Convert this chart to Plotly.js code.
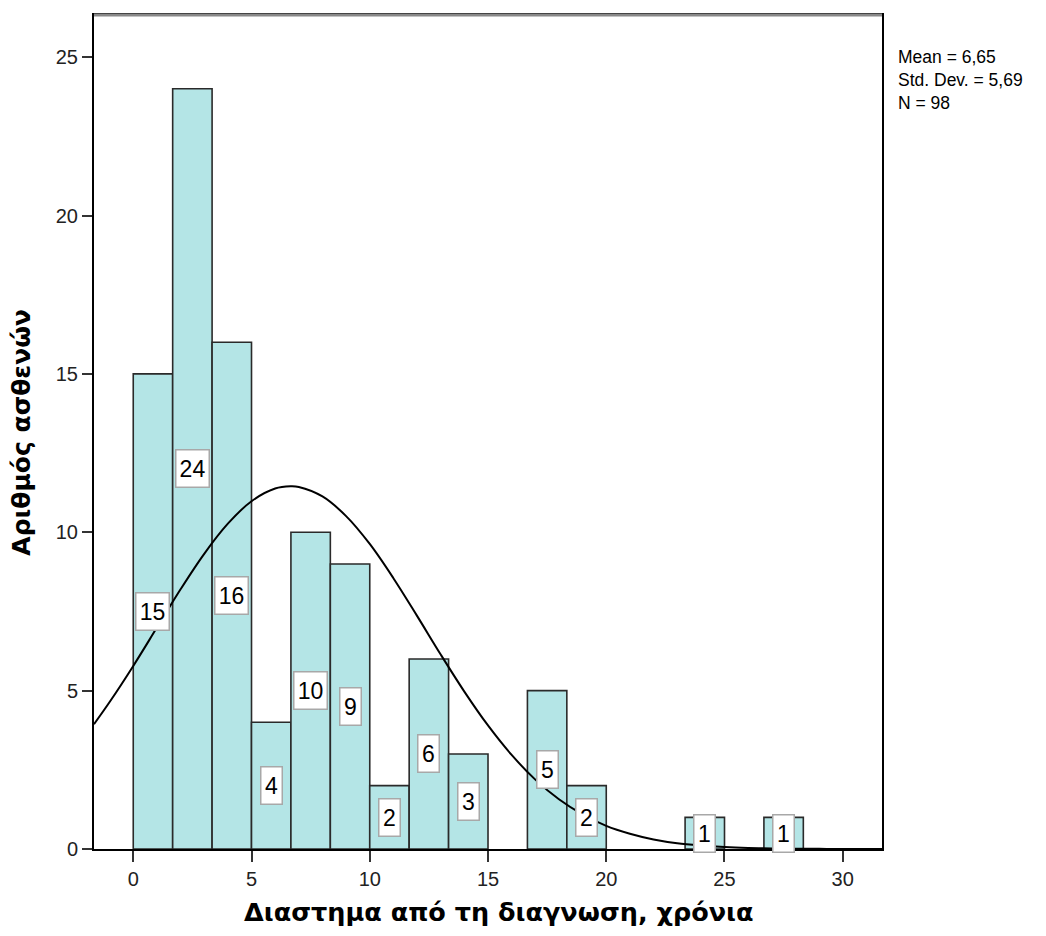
<!DOCTYPE html>
<html>
<head>
<meta charset="utf-8">
<script src="https://cdn.plot.ly/plotly-3.0.1.min.js"></script>
<style>html,body{margin:0;padding:0;background:#fff;}</style>
</head>
<body>
<div id="chart" style="width:1046px;height:936px;"></div>
<script>
// Histogram bins (centres, years) and counts
const binCenters = [0.833, 2.5, 4.167, 5.833, 7.5, 9.167, 10.833, 12.5, 14.167, 15.833, 17.5, 19.167, 20.833, 22.5, 24.167, 25.833, 27.5];
const counts     = [15,    24,  16,    4,     10,  9,     2,      6,    3,      0,      5,    2,      0,      0,    1,      0,      1];
const binWidth = 5 / 3;

// Normal curve
const curveX = [-1.66, -1, 0, 1, 2, 3, 4, 5, 6, 6.65, 7, 8, 9, 10, 11, 12, 13, 14, 15, 16, 17, 18, 19, 20, 21, 22, 23, 24, 25, 26, 27, 28, 29, 30, 31.66];
const curveY = [3.94, 4.64, 5.78, 6.99, 8.20, 9.32, 10.27, 10.98, 11.38, 11.45, 11.43, 11.13, 10.51, 9.63, 8.55, 7.36, 6.14, 4.97, 3.90, 2.97, 2.19, 1.57, 1.09, 0.73, 0.48, 0.30, 0.18, 0.11, 0.063, 0.035, 0.019, 0.009, 0.005, 0.002, 0.0004];

const xTicks = [0, 5, 10, 15, 20, 25, 30];
const yTicks = [0, 5, 10, 15, 20, 25];
const statsLines = ["Mean = 6,65", "Std. Dev. = 5,69", "N = 98"];
const xTitle = "Διαστημα από τη διαγνωση, χρόνια";
const yTitle = "Αριθμός ασθενών";

const barX = [], barY = [];
binCenters.forEach((c, i) => { if (counts[i] > 0) { barX.push(c); barY.push(counts[i]); } });

const FONT = "Liberation Sans, Arial, sans-serif";
const TITLE_FONT = "DejaVu Sans, Liberation Sans, sans-serif";

const traces = [
  {
    type: 'bar',
    x: barX,
    y: barY,
    width: binWidth,
    marker: { color: '#b4e5e6', line: { color: '#2a2a2a', width: 1.6 } },
    hoverinfo: 'skip'
  },
  {
    type: 'scatter',
    mode: 'lines',
    x: curveX,
    y: curveY,
    line: { color: '#000000', width: 2, shape: 'spline', smoothing: 1 },
    hoverinfo: 'skip'
  }
];

const annotations = barX.map((c, i) => {
  const t = String(barY[i]);
  return {
    x: c, y: barY[i] / 2, xref: 'x', yref: 'y',
    text: t,
    showarrow: false,
    font: { family: FONT, size: 23, color: '#000' },
    bgcolor: '#ffffff',
    bordercolor: '#a8a8a8',
    borderwidth: 1.5,
    borderpad: 1,
    width: t.length > 1 ? 30 : 18,
    height: 34,
    align: 'center', valign: 'middle',
    xanchor: 'center', yanchor: 'middle'
  };
});

annotations.push({
  x: 1.0178, y: 0.922, xref: 'paper', yref: 'paper',
  text: statsLines.join('<br>'), showarrow: false, xanchor: 'left', yanchor: 'middle', align: 'left',
  font: { family: FONT, size: 17.5, color: '#000' }
});

annotations.push({
  x: 0.514, y: -0.0755, xref: 'paper', yref: 'paper',
  text: xTitle, showarrow: false, xanchor: 'center', yanchor: 'middle',
  font: { family: TITLE_FONT, size: 25.5, color: '#000', weight: 'bold' }
});
annotations.push({
  x: -0.093, y: 0.5, xref: 'paper', yref: 'paper',
  text: yTitle, showarrow: false, xanchor: 'center', yanchor: 'middle', textangle: -90,
  font: { family: TITLE_FONT, size: 25, color: '#000', weight: 'bold' }
});

const layout = {
  width: 1046,
  height: 936,
  margin: { l: 94, r: 164, t: 15, b: 87, pad: 0 },
  paper_bgcolor: '#ffffff',
  plot_bgcolor: '#ffffff',
  showlegend: false,
  bargap: 0,
  xaxis: {
    range: [-1.66, 31.66],
    tickvals: xTicks,
    ticktext: xTicks.map(String),
    ticks: 'outside', ticklen: 11, tickwidth: 2, tickcolor: '#333',
    showline: true, linecolor: '#000', linewidth: 2, mirror: true,
    showgrid: false, zeroline: false,
    tickfont: { family: FONT, size: 20, color: '#222' }
  },
  yaxis: {
    range: [0, 26.33],
    tickvals: yTicks,
    ticktext: yTicks.map(String),
    ticks: 'outside', ticklen: 10, tickwidth: 2, tickcolor: '#333',
    showline: true, linecolor: '#000', linewidth: 2, mirror: true,
    showgrid: false, zeroline: false,
    tickfont: { family: FONT, size: 20, color: '#222' }
  },
  shapes: [
    { type: 'line', xref: 'paper', yref: 'paper', x0: 0, x1: 1, y0: 1, y1: 1, line: { color: '#888', width: 3 }, layer: 'above' }
  ],
  annotations: annotations
};

Plotly.newPlot('chart', traces, layout, { displayModeBar: false, staticPlot: true });
</script>
</body>
</html>
